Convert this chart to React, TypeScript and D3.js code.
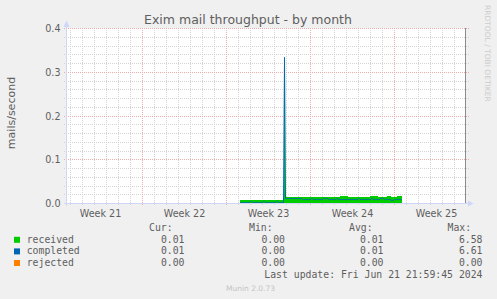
import React from "react";
import * as d3 from "d3";

const title = "Exim mail throughput - by month";
const yLabel = "mails/second";
const yTicks = [0, 0.1, 0.2, 0.3, 0.4];
const seriesNames = ["received", "completed", "rejected"];
const seriesColors = ["#00cc00", "#0066b3", "#ff8000"];
const curValues = ["0.01", "0.01", "0.00"];
const minValues = ["0.00", "0.00", "0.00"];
const avgValues = ["0.01", "0.01", "0.00"];
const maxValues = ["6.58", "6.61", "0.00"];
const lastUpdate = "Last update: Fri Jun 21 21:59:45 2024";
const footer = "Munin 2.0.73";
const watermark = "RRDTOOL / TOBI OETIKER";

const viewStart = Date.UTC(2024, 4, 20, 16, 0);
const viewEnd = Date.UTC(2024, 5, 23, 0, 0);
const dataStart = Date.UTC(2024, 5, 4, 3, 0);
const stepHours = 2;

const received = [
  0.0080, 0.0080, 0.0079, 0.0080, 0.0081, 0.0080, 0.0078, 0.0080, 0.0080, 0.0082,
  0.0080, 0.0079, 0.0080, 0.0081, 0.0080, 0.0080, 0.0078, 0.0080, 0.0080, 0.0082,
  0.0080, 0.0079, 0.0080, 0.0080, 0.0081, 0.0080, 0.0078, 0.0080, 0.0080, 0.0082,
  0.0080, 0.0079, 0.0080, 0.0081, 0.0080, 0.0080, 0.0078, 0.0080, 0.0080, 0.0081,
  0.0080, 0.0079, 0.0080, 0.0080,
  0.3280,
  0.0150, 0.0149, 0.0148, 0.0150, 0.0149, 0.0151, 0.0149, 0.0148, 0.0150, 0.0149,
  0.0150, 0.0148, 0.0149, 0.0150, 0.0151, 0.0149, 0.0148, 0.0150, 0.0149, 0.0150,
  0.0149, 0.0148, 0.0150, 0.0149, 0.0151, 0.0149, 0.0150, 0.0148, 0.0149, 0.0150,
  0.0149, 0.0151, 0.0148, 0.0150, 0.0149, 0.0150, 0.0149, 0.0148, 0.0150, 0.0151,
  0.0149, 0.0150, 0.0148, 0.0149, 0.0150, 0.0149, 0.0151, 0.0150, 0.0148, 0.0149,
  0.0150, 0.0149, 0.0148, 0.0150, 0.0149,
  0.0171, 0.0172, 0.0170, 0.0171, 0.0172, 0.0171, 0.0170, 0.0171,
  0.0149, 0.0150, 0.0148, 0.0149, 0.0150, 0.0149, 0.0151, 0.0149, 0.0148, 0.0150,
  0.0149, 0.0150, 0.0148, 0.0149, 0.0151, 0.0150, 0.0149, 0.0148, 0.0150, 0.0149,
  0.0150, 0.0149,
  0.0170, 0.0172, 0.0171, 0.0170, 0.0171, 0.0172, 0.0170, 0.0171,
  0.0149, 0.0150, 0.0148, 0.0149, 0.0150, 0.0149, 0.0151, 0.0149, 0.0150,
  0.0171, 0.0170, 0.0172, 0.0171,
  0.0149, 0.0148, 0.0150, 0.0149, 0.0150, 0.0148,
  0.0171, 0.0172, 0.0170, 0.0171, 0.0172,
];

const completed = [
  0.0023, 0.0023, 0.0022, 0.0024, 0.0023, 0.0023, 0.0022, 0.0023, 0.0024, 0.0023,
  0.0046, 0.0045, 0.0023, 0.0022, 0.0023, 0.0024, 0.0023, 0.0023, 0.0022, 0.0023,
  0.0024, 0.0023, 0.0023, 0.0046, 0.0045, 0.0023, 0.0022, 0.0023, 0.0024, 0.0023,
  0.0023, 0.0022, 0.0023, 0.0024, 0.0023, 0.0023, 0.0046, 0.0045, 0.0023, 0.0022,
  0.0023, 0.0024, 0.0023, 0.0023,
  0.3340,
  0.0114, 0.0114, 0.0113, 0.0114, 0.0115, 0.0114, 0.0114, 0.0113, 0.0114, 0.0114,
  0.0115, 0.0114, 0.0113, 0.0114, 0.0114, 0.0115, 0.0114,
  0.0091, 0.0090, 0.0091, 0.0092, 0.0091, 0.0091, 0.0090, 0.0091, 0.0092,
  0.0114, 0.0113,
  0.0091, 0.0090, 0.0091, 0.0092, 0.0091, 0.0091, 0.0090, 0.0091, 0.0092, 0.0091,
  0.0114, 0.0113, 0.0114, 0.0115, 0.0114,
  0.0091, 0.0090, 0.0091, 0.0092, 0.0091, 0.0091, 0.0090, 0.0091,
  0.0114, 0.0114,
  0.0091, 0.0092, 0.0091, 0.0090, 0.0091, 0.0091, 0.0092, 0.0091, 0.0090, 0.0091,
  0.0091, 0.0092, 0.0091, 0.0090, 0.0091, 0.0091, 0.0092, 0.0091, 0.0090, 0.0091,
  0.0114, 0.0113,
  0.0091, 0.0090, 0.0091, 0.0092, 0.0091, 0.0091, 0.0090, 0.0091, 0.0092, 0.0091, 0.0090,
  0.0114, 0.0115,
  0.0091, 0.0090, 0.0091, 0.0092, 0.0091, 0.0091, 0.0090,
  0.0114, 0.0113, 0.0114, 0.0115,
  0.0091, 0.0090, 0.0091, 0.0092, 0.0091, 0.0091, 0.0090,
  0.0069, 0.0068, 0.0069,
  0.0091, 0.0090, 0.0091, 0.0092, 0.0091, 0.0091, 0.0090, 0.0091,
];

const rejected = [
  0, 0, 0, 0, 0, 0, 0, 0, 0, 0, 0, 0, 0, 0, 0, 0, 0, 0, 0, 0,
  0, 0, 0, 0, 0, 0, 0, 0, 0, 0, 0, 0, 0, 0, 0, 0, 0, 0, 0, 0,
  0, 0, 0, 0, 0, 0, 0, 0, 0, 0, 0, 0, 0, 0, 0, 0, 0, 0, 0, 0,
  0, 0, 0, 0, 0, 0, 0, 0, 0, 0, 0, 0, 0, 0, 0, 0, 0, 0, 0, 0,
  0, 0, 0, 0, 0, 0, 0, 0, 0, 0, 0, 0, 0, 0, 0, 0, 0, 0, 0, 0,
  0, 0, 0, 0, 0, 0, 0, 0, 0, 0, 0, 0, 0, 0, 0, 0, 0, 0, 0, 0,
  0, 0, 0, 0, 0, 0, 0, 0, 0, 0, 0, 0, 0, 0, 0, 0, 0, 0, 0, 0,
  0, 0, 0, 0, 0, 0, 0, 0, 0, 0, 0, 0, 0, 0, 0, 0, 0, 0, 0, 0,
  0, 0,
];

const W = 497;
const H = 299;
const SANS = "'DejaVu Sans', sans-serif";
const MONO = "'DejaVu Sans Mono', monospace";
const FONT_COLOR = "#5e5e5e";
const STEP_MS = stepHours * 3600e3;

type Pt = { t: number; v: number };
function toStepPoints(vals: number[]): Pt[] {
  const pts = vals.map((v, i) => ({ t: dataStart + i * STEP_MS, v }));
  pts.push({ t: dataStart + vals.length * STEP_MS, v: vals[vals.length - 1] });
  return pts;
}
function toCenterPoints(vals: number[]): Pt[] {
  return vals.map((v, i) => ({ t: dataStart + (i + 0.5) * STEP_MS, v }));
}

export default function App() {
  const x = d3.scaleUtc().domain([viewStart, viewEnd]).range([66.5, 466.5]);
  const y = d3.scaleLinear().domain([0, 0.4]).range([203.5, 28.5]);

  const days = d3.utcDay.range(new Date(viewStart), new Date(viewEnd));
  const mondays = d3.utcMonday.range(new Date(viewStart), new Date(viewEnd));
  const minorDays = days.filter((d) => d.getUTCDay() !== 1 && x(d) > 67 && x(d) < 465);
  const majorDays = mondays.filter((d) => x(d) > 67 && x(d) < 465);
  const thursdays = d3.utcThursday.range(new Date(viewStart - 86400e3), new Date(viewEnd));
  const weekLabels = thursdays
    .map((d) => new Date(d.getTime() + 12 * 3600e3))
    .filter((d) => x(d) > 70 && x(d) < 462);
  const weekFmt = d3.utcFormat("%V");

  const minorY = y.ticks(20).filter((v) => !yTicks.some((m) => Math.abs(m - v) < 1e-9));

  const area = d3
    .area<Pt>()
    .x((d) => x(d.t))
    .y0(y(0))
    .y1((d) => y(d.v))
    .curve(d3.curveStepAfter);
  const line = d3
    .line<Pt>()
    .x((d) => x(d.t))
    .y((d) => y(d.v));

  const recPts = toStepPoints(received);
  const comPts = toCenterPoints(completed);
  const rejPts = toCenterPoints(rejected);

  const legendRows = [242.8, 254.4, 266.0];

  return (
    <svg
      width={W}
      height={H}
      style={{ position: "absolute", left: 0, top: 0, display: "block" }}
      xmlns="http://www.w3.org/2000/svg"
    >
      <rect x={0} y={0} width={W} height={H} fill="#f0f0f0" />
      <rect x={67} y={28} width={398} height={175.5} fill="#ffffff" />

      {/* minor grid */}
      <g stroke="#d4d4d4" strokeWidth={1} strokeDasharray="1,1" shapeRendering="crispEdges">
        {minorY.map((v) => (
          <line key={"hy" + v} x1={64} x2={469} y1={y(v)} y2={y(v)} />
        ))}
        {minorDays.map((d) => (
          <line key={"vx" + d.getTime()} x1={x(d)} x2={x(d)} y1={28} y2={206} />
        ))}
      </g>
      {/* major grid */}
      <g stroke="#ebacac" strokeWidth={1} strokeDasharray="1,1" shapeRendering="crispEdges">
        {yTicks.filter((v) => v > 0).map((v) => (
          <line key={"my" + v} x1={64} x2={469} y1={y(v)} y2={y(v)} />
        ))}
        {majorDays.map((d) => (
          <line key={"mx" + d.getTime()} x1={x(d)} x2={x(d)} y1={28} y2={206} />
        ))}
      </g>

      {/* data */}
      <path d={area(recPts) || ""} fill={seriesColors[0]} shapeRendering="crispEdges" />
      <path d={line(comPts) || ""} fill="none" stroke={seriesColors[1]} strokeWidth={1} />
      <path d={line(rejPts) || ""} fill="none" stroke={seriesColors[2]} strokeWidth={1} />

      {/* right frame line */}
      <line x1={465.5} x2={465.5} y1={28} y2={203} stroke="#8c8c8c" strokeWidth={1} shapeRendering="crispEdges" />

      {/* axes */}
      <g stroke="#cfd6f8" strokeWidth={1} shapeRendering="crispEdges">
        <line x1={64} x2={468} y1={203.5} y2={203.5} />
        <line x1={66.5} x2={66.5} y1={206} y2={26} />
      </g>
      <path d="M468,200.5 L473.5,203.5 L468,206.5 Z" fill="#cfd6f8" />
      <path d="M63.5,27 L66.5,20.5 L69.5,27 Z" fill="#cfd6f8" />

      {/* y tick labels */}
      <g fontFamily={SANS} fontSize={9.6} fill={FONT_COLOR} textAnchor="end">
        {yTicks.map((v) => (
          <text key={"yt" + v} x={60.5} y={y(v) + 3.5}>
            {d3.format(".1f")(v)}
          </text>
        ))}
      </g>
      {/* week labels */}
      <g fontFamily={SANS} fontSize={9.6} fill={FONT_COLOR} textAnchor="middle">
        {weekLabels.map((d) => (
          <text key={"wk" + d.getTime()} x={x(d)} y={216.5}>
            {"Week " + weekFmt(d)}
          </text>
        ))}
      </g>

      {/* title */}
      <text x={248} y={24.2} fontFamily={SANS} fontSize={12.5} fill={FONT_COLOR} textAnchor="middle">
        {title}
      </text>
      {/* y label */}
      <text
        transform="translate(14.5,113) rotate(-90)"
        fontFamily={SANS}
        fontSize={11}
        fill={FONT_COLOR}
        textAnchor="middle"
      >
        {yLabel}
      </text>
      {/* watermark */}
      <text
        transform="translate(485,5) rotate(90)"
        fontFamily={SANS}
        fontSize={7.5}
        fill="#cccccc"
        textAnchor="start"
      >
        {watermark}
      </text>

      {/* legend */}
      <g fontFamily={MONO} fontSize={9.8} fill={FONT_COLOR}>
        <text x={149} y={230.8}>Cur:</text>
        <text x={249} y={230.8}>Min:</text>
        <text x={349} y={230.8}>Avg:</text>
        <text x={447.5} y={230.8}>Max:</text>
        {seriesNames.map((n, i) => (
          <g key={n}>
            <rect x={14} y={legendRows[i] - 6} width={6} height={6} fill={seriesColors[i]} />
            <text x={26.7} y={legendRows[i]}>{n}</text>
            <text x={184.5} y={legendRows[i]} textAnchor="end">{curValues[i]}</text>
            <text x={285} y={legendRows[i]} textAnchor="end">{minValues[i]}</text>
            <text x={383.5} y={legendRows[i]} textAnchor="end">{avgValues[i]}</text>
            <text x={482.5} y={legendRows[i]} textAnchor="end">{maxValues[i]}</text>
          </g>
        ))}
        <text x={482.5} y={278} textAnchor="end">{lastUpdate}</text>
      </g>
      <text x={250.5} y={291} fontFamily={SANS} fontSize={7.5} fill="#c4c4c4" textAnchor="middle">
        {footer}
      </text>
    </svg>
  );
}
